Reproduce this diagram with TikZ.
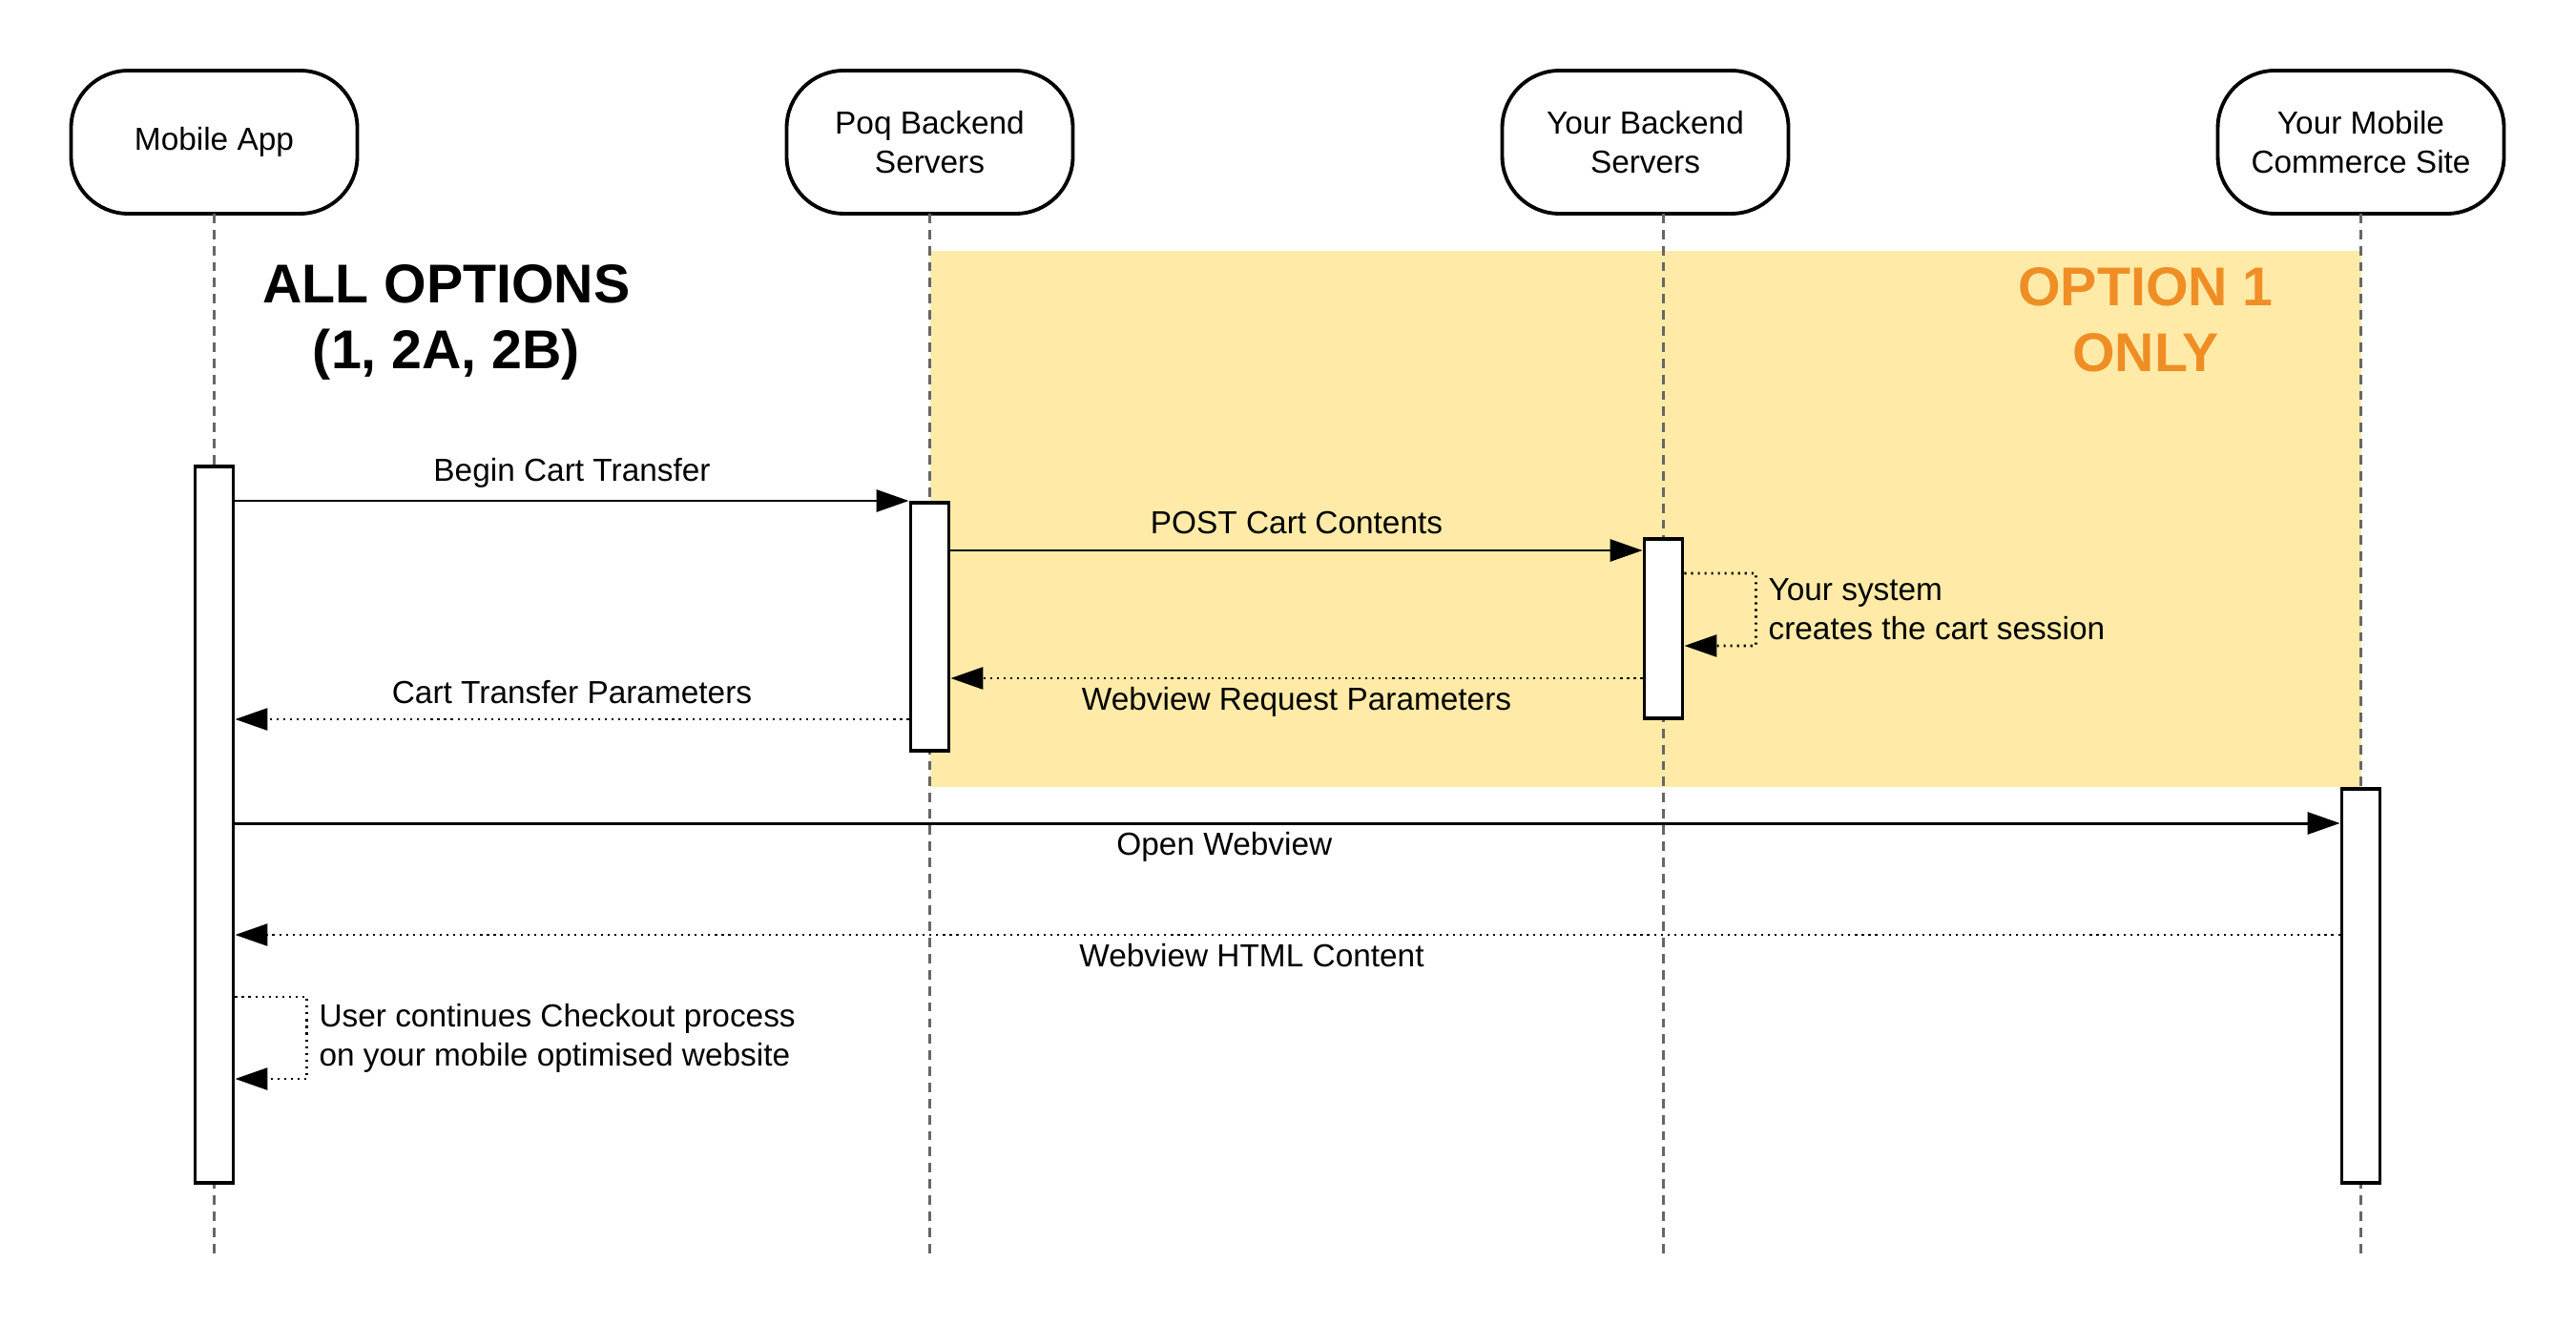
\documentclass[tikz,border=0pt]{standalone}
\usepackage{fontspec}
\setmainfont{Liberation Sans}
\usetikzlibrary{arrows.meta,positioning}
\definecolor{optyellow}{RGB}{255,235,167}
\definecolor{optorange}{RGB}{240,142,38}
\definecolor{lifegray}{RGB}{102,102,102}

\begin{document}
\begin{tikzpicture}[
    node distance=4.5cm,
    actor/.style={rectangle,rounded corners=0.6cm,draw,line width=1.1pt,fill=white,outer sep=0pt,
      minimum width=3cm,minimum height=1.5cm,align=center,font=\fontsize{9.5}{11.6}\selectfont},
    bar/.style={rectangle,draw,line width=1.1pt,fill=white,minimum width=0.4cm,inner sep=0pt,anchor=north},
    lifeline/.style={draw=lifegray,line width=0.95pt,dash pattern=on 2.8pt off 2pt},
    msg/.style={-{Triangle[length=3.4mm,width=2.3mm]},line width=0.85pt},
    ret/.style={msg,line width=0.8pt,dash pattern=on 0.6pt off 1.4pt},
    lbl/.style={font=\fontsize{9.5}{11.6}\selectfont},
    title/.style={align=center,font=\fontsize{16.3}{19.6}\selectfont\bfseries}
  ]
    \useasboundingbox (0,0) rectangle (27,-13.89);
    % option 1 region
    \fill[optyellow] (9.745,-2.63) rectangle (24.745,-8.25);

    \node[actor] (mobile) at (2.245,-1.49) {Mobile App};
    \node[actor,right=of mobile] (poq) {Poq Backend\\Servers};
    \node[actor,right=of poq] (yb) {Your Backend\\Servers};
    \node[actor,right=of yb] (site) {Your Mobile\\Commerce Site};
    \coordinate (ybtop) at ([xshift=1.9mm]yb.south);

    \node[title] (allopt) at (4.68,-3.38) {ALL OPTIONS\\(1, 2A, 2B)};
    \node[title,text=optorange] (opt1) at (22.49,-3.35) {OPTION 1\\ONLY};

    % lifelines
    \draw[lifeline] (mobile.south) -- (mobile.south |- 0,-13.14);
    \draw[lifeline] (poq.south) -- (poq.south |- 0,-13.14);
    \draw[lifeline] (ybtop) -- (ybtop |- 0,-13.14);
    \draw[lifeline] (site.south) -- (site.south |- 0,-13.14);

    % activations
    \node[bar,minimum height=7.51cm] (mbar) at (mobile.south |- 0,-4.87) {};
    \node[bar,minimum height=2.6cm] (pbar) at (poq.south |- 0,-5.25) {};
    \node[bar,minimum height=1.88cm] (ybar) at (ybtop |- 0,-5.63) {};
    \node[bar,minimum height=4.13cm] (cbar) at (site.south |- 0,-8.25) {};

    \draw[msg] (mbar.east |- pbar.north west) -- (pbar.north west) node[lbl,midway,above=0pt] {Begin Cart Transfer};
    \draw[msg] (pbar.east |- 0,-5.77) -- (ybar.west |- 0,-5.77) node[lbl,midway,above=1pt] {POST Cart Contents};
    \draw[ret] (ybar.east |- 0,-6.01) -- ++(0.75,0) -- ++(0,-0.76)
      node[lbl,midway,right,align=left] {Your system\\creates the cart session} -- (ybar.east |- 0,-6.77);
    \draw[ret] (ybar.west |- 0,-7.11) -- (pbar.east |- 0,-7.11) node[lbl,midway,below=-1pt] {Webview Request Parameters};
    \draw[ret] (pbar.west |- 0,-7.54) -- (mbar.east |- 0,-7.54) node[lbl,midway,above=1pt] {Cart Transfer Parameters};
    \draw[msg] (mbar.east |- 0,-8.63) -- (cbar.west |- 0,-8.63) node[lbl,pos=0.47,below=-1pt] {Open Webview};
    \draw[ret] (cbar.west |- 0,-9.80) -- (mbar.east |- 0,-9.80) node[lbl,pos=0.517,below=-1pt] {Webview HTML Content};
    \draw[ret] (mbar.east |- 0,-10.45) -- ++(0.75,0) -- ++(0,-0.86)
      node[lbl,midway,right,align=left] {User continues Checkout process\\on your mobile optimised website} -- (mbar.east |- 0,-11.31);
  \end{tikzpicture}
\end{document}
